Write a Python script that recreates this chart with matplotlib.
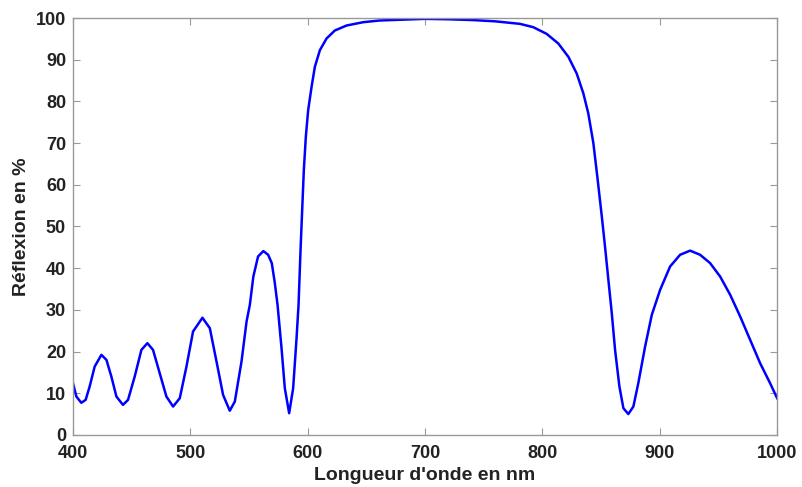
import matplotlib
matplotlib.use('Agg')
import matplotlib.pyplot as plt

# Wavelength (nm) and reflectance (%)
wavelength = [400, 402.9, 407.1, 410.8, 414.2, 418.5, 424.2, 428.5, 432.7, 437,
              442.6, 446.9, 452.6, 458.3, 463.4, 468.2, 473.9, 479.6, 485.3, 491,
              496.7, 502.3, 510.3, 516.6, 522.3, 527.9, 533.6, 537.9, 543.6, 547.9,
              550.7, 553.7, 557.7, 562.2, 566.3, 569.4, 572, 574.3, 577.7, 580.5,
              584.2, 587.6, 590.5, 592.2, 593.9, 595.3, 596.7, 598.4, 600.4, 603.3,
              606.1, 610.4, 616.1, 623.1, 633.1, 647.3, 661, 680, 700, 720,
              741.5, 760, 780.9, 792.2, 803.6, 813.5, 822.1, 829.2, 834.9, 839.1,
              843.4, 846.8, 850.6, 853.4, 856.2, 859.1, 861.9, 865.6, 869, 873.2,
              877.5, 881.7, 887.5, 893.2, 900.3, 908.8, 917.3, 925.8, 934.4, 942.9,
              951.4, 960, 968.5, 977, 985.5, 994, 1000]
reflexion = [12.4, 9.2, 7.7, 8.4, 11.6, 16.4, 19.2, 18.0, 14.0, 9.2,
             7.2, 8.4, 14.0, 20.4, 22.0, 20.4, 14.8, 9.2, 6.8, 8.8,
             16.4, 24.8, 28.1, 25.6, 17.6, 9.6, 5.8, 8.0, 17.6, 27.2,
             31.2, 38.0, 42.8, 44.1, 43.2, 41.2, 36.4, 31.2, 20.8, 11.2,
             5.2, 11.2, 23.2, 31.2, 44.4, 54.0, 63.5, 71.5, 77.9, 83.5,
             88.3, 92.3, 95.1, 97.0, 98.2, 99.0, 99.4, 99.6, 99.8, 99.7,
             99.5, 99.2, 98.6, 97.8, 96.2, 93.9, 90.7, 86.7, 81.9, 77.1,
             70.0, 61.9, 52.4, 45.0, 37.2, 29.2, 20.4, 11.6, 6.4, 5.0,
             6.8, 12.4, 21.2, 28.8, 34.8, 40.4, 43.2, 44.2, 43.2, 41.2,
             38.0, 33.6, 28.4, 22.8, 17.2, 12.4, 8.8]

xticks = [400, 500, 600, 700, 800, 900, 1000]
yticks = [0, 10, 20, 30, 40, 50, 60, 70, 80, 90, 100]

plt.rcParams['font.family'] = ['Liberation Sans', 'DejaVu Sans']

fig = plt.figure(figsize=(8.02, 4.87), dpi=100)
ax = fig.add_axes([0.091, 0.107, 0.878, 0.856])

ax.plot(wavelength, reflexion, color='#0000ff', linewidth=1.8)

ax.set_xlim(400, 1000)
ax.set_ylim(0, 100)
ax.set_xticks(xticks)
ax.set_yticks(yticks)

for spine in ax.spines.values():
    spine.set_color('#999999')
    spine.set_linewidth(1.0)
ax.tick_params(direction='in', top=True, right=True, length=5, color='#999999',
               labelsize=13, labelcolor='#222222')
ax.tick_params(axis='x', pad=7)
ax.tick_params(axis='y', pad=5)
for lbl in ax.get_xticklabels() + ax.get_yticklabels():
    lbl.set_fontweight('bold')

ax.set_xlabel("Longueur d'onde en nm", fontsize=14, fontweight='bold', color='#222222', labelpad=4)
ax.set_ylabel("Réflexion en %", fontsize=14, fontweight='bold', color='#222222', labelpad=4)

fig.savefig('out.png', dpi=100)
